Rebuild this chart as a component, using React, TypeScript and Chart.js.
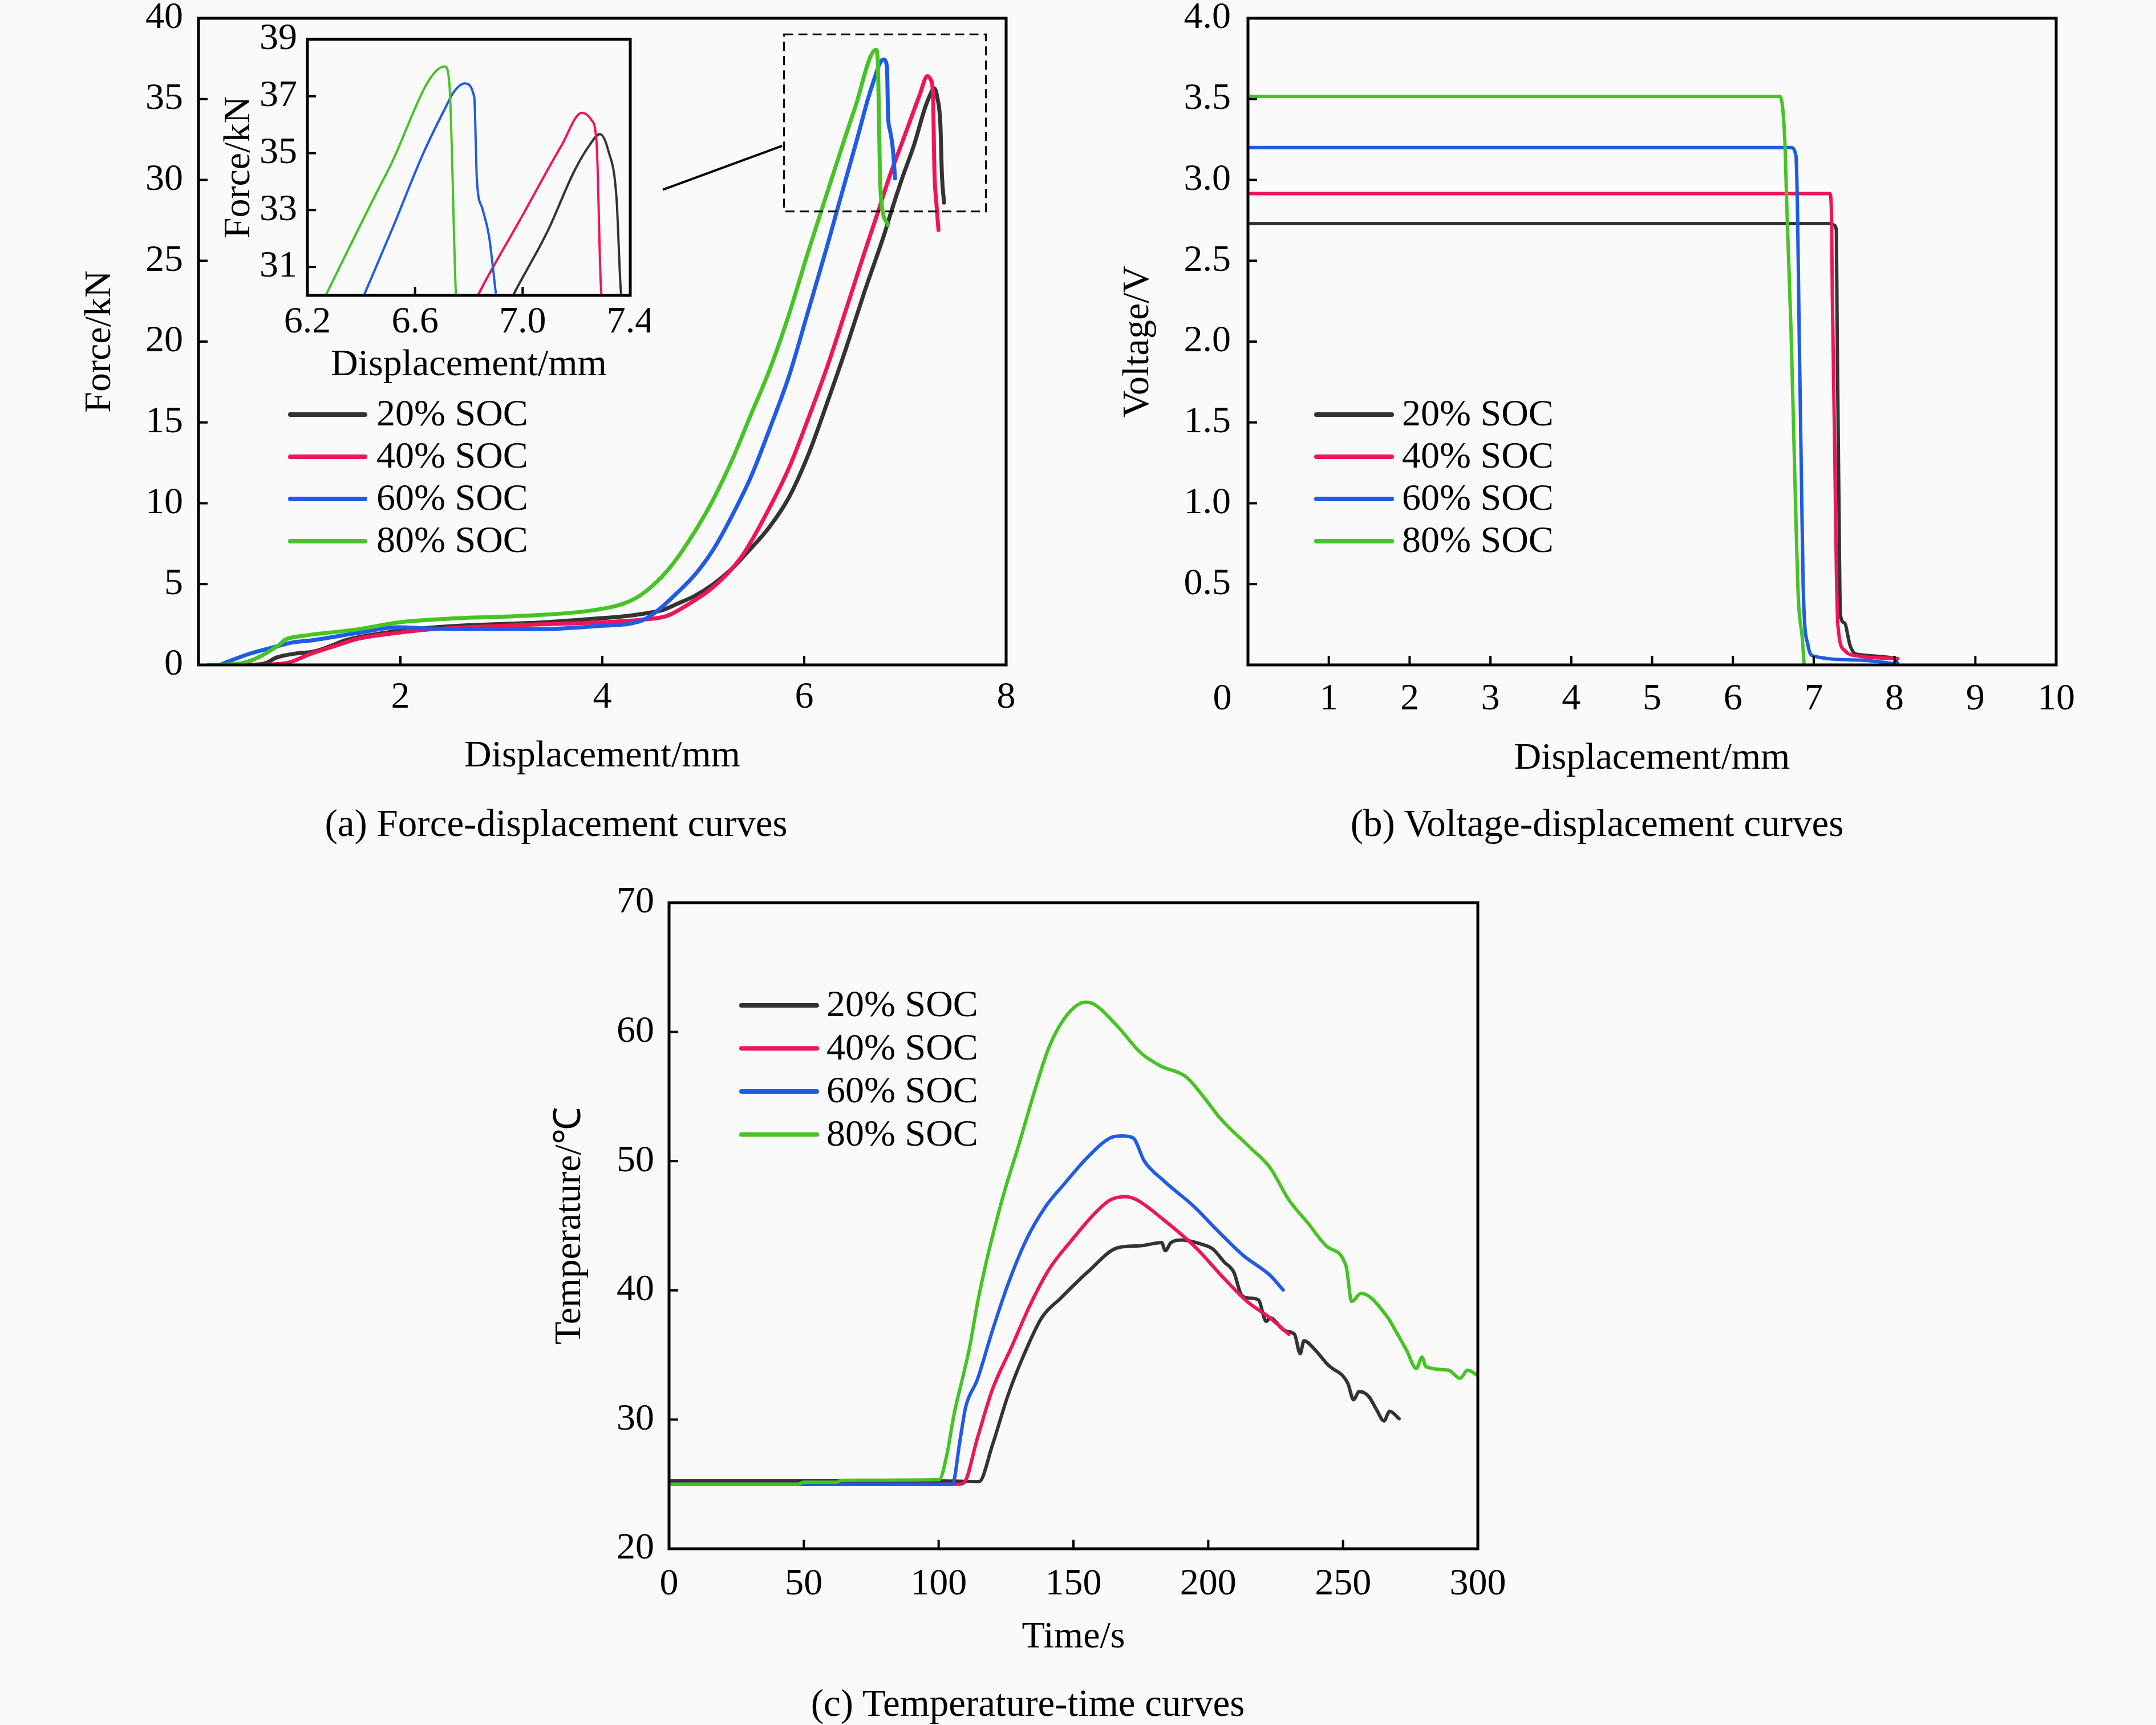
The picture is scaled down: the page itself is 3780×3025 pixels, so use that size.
import React, { useEffect, useRef } from 'react';
import { Chart, registerables } from 'chart.js';

Chart.register(...registerables);

type Pt = [number, number];

// ---------- Data ----------
const SOC_LABELS = ['20% SOC', '40% SOC', '60% SOC', '80% SOC'];
const SOC_COLORS = ['#333333', '#f01458', '#1f5be6', '#46c424'];

// (a) Force (kN) vs displacement (mm)
const force20: Pt[] = [[0.5,0],[0.65,0.08],[0.78,0.47],[0.96,0.7],[1.14,0.82],[1.3,1.15],[1.45,1.51],[1.61,1.74],[1.97,2.09],[2.3,2.3],[2.66,2.45],[3.0,2.53],[3.38,2.62],[3.92,2.86],[4.2,3.0],[4.39,3.15],[4.6,3.4],[4.75,3.8],[4.91,4.25],[5.1,5.0],[5.28,5.93],[5.435,6.95],[5.66,8.57],[5.85,10.38],[6.04,13.0],[6.23,16.26],[6.41,19.5],[6.6,23.14],[6.79,26.58],[6.86,28.0],[6.97,30.1],[7.092,32.24],[7.192,34.37],[7.25,35.3],[7.287,35.67],[7.318,35.1],[7.349,33.4],[7.364,30.3],[7.385,28.6]];
const force40: Pt[] = [[0.5,0],[0.86,0.1],[1.11,0.68],[1.4,1.27],[1.58,1.62],[1.97,1.98],[2.3,2.2],[2.66,2.33],[3.38,2.51],[3.92,2.62],[4.39,2.8],[4.64,3.03],[4.85,3.74],[5.096,4.8],[5.38,6.7],[5.66,9.77],[5.85,12.2],[6.04,15.24],[6.23,18.48],[6.41,21.9],[6.6,25.57],[6.73,28.0],[6.85,30.3],[6.99,32.65],[7.144,35.26],[7.22,36.42],[7.256,36.16],[7.275,35.35],[7.29,30.5],[7.31,28.5],[7.33,26.9]];
const force60: Pt[] = [[0.21,0],[0.5,0.68],[0.78,1.15],[0.93,1.39],[1.11,1.51],[1.58,1.98],[1.97,2.33],[2.3,2.25],[2.66,2.21],[3.38,2.21],[3.92,2.39],[4.39,2.74],[4.53,3.27],[4.74,4.45],[4.92,5.6],[5.096,7.1],[5.28,9.17],[5.47,11.6],[5.66,14.64],[5.85,17.88],[6.04,21.9],[6.23,25.97],[6.32,28.0],[6.41,30.0],[6.518,32.4],[6.631,35.0],[6.713,36.6],[6.744,37.15],[6.785,37.45],[6.82,36.98],[6.83,34.04],[6.85,33.06],[6.875,32.08],[6.9,30.1]];
const force80: Pt[] = [[0.1,0],[0.42,0.1],[0.78,1.15],[0.86,1.56],[1.04,1.8],[1.58,2.2],[1.97,2.62],[2.48,2.86],[3.2,3.03],[3.92,3.39],[4.24,3.86],[4.42,4.5],[4.64,5.8],[4.85,7.6],[5.096,10.2],[5.28,12.6],[5.47,15.45],[5.66,18.3],[5.85,21.7],[6.04,25.57],[6.17,28.1],[6.32,31.0],[6.5,34.4],[6.711,38.05],[6.728,37.4],[6.752,30.0],[6.765,28.6],[6.83,27.2]];

// (b) Voltage (V) vs displacement (mm)
const volt20: Pt[] = [[0,2.73],[7.22,2.73],[7.25,2.72],[7.28,2.69],[7.29,2.06],[7.31,1.09],[7.33,0.31],[7.38,0.26],[7.45,0.12],[7.52,0.067],[8.0,0.04],[8.04,0.005]];
const volt40: Pt[] = [[0,2.915],[7.2,2.915],[7.22,2.79],[7.23,2.3],[7.26,1.33],[7.28,0.6],[7.3,0.24],[7.38,0.09],[7.57,0.054],[8.04,0.04]];
const volt60: Pt[] = [[0,3.2],[6.72,3.2],[6.78,3.15],[6.8,2.79],[6.82,2.06],[6.85,1.09],[6.87,0.48],[6.93,0.12],[7.0,0.054],[7.57,0.03],[8.04,0.005]];
const volt80: Pt[] = [[0,3.517],[6.58,3.517],[6.64,3.27],[6.67,2.79],[6.72,2.06],[6.77,1.09],[6.81,0.41],[6.86,0.16],[6.88,0.005]];

// (c) Temperature (°C) vs time (s)
const temp20: Pt[] = [[0,25.25],[100,25.25],[115,25.2],[119.9,28.0],[125.6,31.8],[131.2,34.8],[138.3,37.9],[145.3,39.4],[155.2,41.4],[166.5,43.3],[174.9,43.45],[182.7,43.7],[184.1,43.07],[186.2,43.7],[190.4,43.9],[197.5,43.57],[201.7,43.2],[206,42.18],[209.5,41.4],[212.3,39.65],[215.1,39.4],[218.6,39.27],[221.5,37.6],[222.9,37.87],[228.5,36.86],[232,36.6],[234.1,35.1],[235.5,36.1],[239.8,35.35],[244,34.33],[246.1,33.95],[249.7,33.44],[251.8,32.8],[253.9,31.54],[256,32.17],[259.5,31.8],[262.4,30.78],[265.2,29.9],[267.3,30.65],[270.8,30.07]];
const temp40: Pt[] = [[0,25.0],[107.5,25.0],[109.4,25.1],[114.3,28.5],[119.9,32.3],[127,35.6],[134,38.9],[141.1,41.67],[149.6,43.95],[158,45.98],[163.7,47.0],[169.3,47.25],[173.5,47.0],[183.4,45.47],[194.7,43.45],[206,40.9],[214.4,39.14],[222.9,37.87],[229.9,36.6]];
const temp60: Pt[] = [[0,25.0],[105.1,25.0],[108,28.5],[110.1,31.03],[114.3,33.06],[119.9,36.86],[125.6,40.4],[132.6,43.95],[139.7,46.49],[146.7,48.26],[155.2,50.29],[163.7,51.8],[168,51.95],[172.1,51.8],[176.3,50.0],[183.4,48.5],[194.7,46.49],[203.1,44.7],[213,42.7],[222.9,41.17],[227.8,40.03]];
const temp80: Pt[] = [[0,25.0],[48,25.0],[50,25.15],[62,25.15],[64,25.3],[100.2,25.35],[103,27.23],[105.8,30.5],[108.7,33.06],[111.5,35.6],[114.3,38.9],[118.5,42.94],[124.2,47.5],[129.8,51.3],[135.5,55.35],[141.1,58.9],[148.1,61.43],[154.5,62.3],[158,62.1],[166.5,60.4],[174.9,58.4],[182,57.4],[191.9,56.5],[198.9,54.8],[204.5,53.3],[215.8,51.0],[222.9,49.5],[229.9,47.0],[237,45.2],[244,43.4],[251.1,41.9],[253.2,39.14],[256.7,39.77],[266.6,37.9],[269.4,36.9],[273.6,35.35],[277.2,33.95],[279.3,34.83],[280.7,34.1],[289.1,33.82],[293.4,33.19],[296.2,33.82],[300,33.4]];

// Tick values
const forceXTicks = [0, 2, 4, 6, 8];
const forceYTicks = [0, 5, 10, 15, 20, 25, 30, 35, 40];
const insetXTicks = [6.2, 6.6, 7.0, 7.4];
const insetYTicks = [31, 33, 35, 37, 39];
const voltXTicks = [0, 1, 2, 3, 4, 5, 6, 7, 8, 9, 10];
const voltYTicks = [0, 0.5, 1.0, 1.5, 2.0, 2.5, 3.0, 3.5, 4.0];
const tempXTicks = [0, 50, 100, 150, 200, 250, 300];
const tempYTicks = [20, 30, 40, 50, 60, 70];

// Zoomed region (data units) and connector line of panel (a)
const zoomRegion = { x0: 5.8, x1: 7.8, y0: 28.05, y1: 39.0 };
const zoomConnector = { x0: 4.6, y0: 29.4, x1: 5.78, y1: 32.1 };

// ---------- Styling / layout ----------
const FONT = '"Liberation Serif", "Times New Roman", serif';
const FS = 66;
const CAPTION_FS = 67;
const BG = '#fafafa';

type Geom = { left: number; top: number; width: number; height: number; area: { left: number; top: number; right: number; bottom: number } };

const GEOM_A: Geom = { left: 0, top: 0, width: 1900, height: 1400, area: { left: 348, top: 32, right: 1764, bottom: 1166 } };
const GEOM_INSET: Geom = { left: 380, top: 0, width: 760, height: 700, area: { left: 159, top: 69, right: 725, bottom: 518 } };
const GEOM_B: Geom = { left: 1900, top: 0, width: 1880, height: 1400, area: { left: 288, top: 32, right: 1705, bottom: 1166 } };
const GEOM_C: Geom = { left: 900, top: 1500, width: 1800, height: 1440, area: { left: 273, top: 83, right: 1691, bottom: 1216 } };

function near(a: number, b: number) { return Math.abs(a - b) < 1e-6; }

const decorPlugin = {
  id: 'decor',
  beforeDatasetsDraw(chart: any, _args: any, o: any) {
    if (!o || !o.bg) return;
    const a = chart.chartArea;
    const ctx = chart.ctx;
    ctx.save();
    ctx.fillStyle = o.bg;
    ctx.fillRect(a.left, a.top, a.right - a.left, a.bottom - a.top);
    ctx.restore();
  },
  afterDatasetsDraw(chart: any, _args: any, o: any) {
    const { ctx, chartArea: a } = chart;
    const xs = chart.scales.x;
    const ys = chart.scales.y;
    ctx.save();
    ctx.strokeStyle = '#000';
    ctx.lineCap = 'butt';
    // inward ticks
    ctx.lineWidth = o.tickWidth;
    for (const t of xs.ticks) {
      if (near(t.value, xs.min) || near(t.value, xs.max)) continue;
      const px = xs.getPixelForValue(t.value);
      ctx.beginPath();
      ctx.moveTo(px, a.bottom);
      ctx.lineTo(px, a.bottom - o.tickLen);
      ctx.stroke();
    }
    for (const t of ys.ticks) {
      if (near(t.value, ys.min) || near(t.value, ys.max)) continue;
      const py = ys.getPixelForValue(t.value);
      ctx.beginPath();
      ctx.moveTo(a.left, py);
      ctx.lineTo(a.left + o.tickLen, py);
      ctx.stroke();
    }
    // frame
    ctx.lineWidth = o.frameWidth;
    ctx.lineJoin = 'miter';
    ctx.strokeRect(a.left, a.top, a.right - a.left, a.bottom - a.top);

    // zoom region box + connector
    if (o.zoom) {
      const z = o.zoom;
      const x0 = xs.getPixelForValue(z.x0), x1 = xs.getPixelForValue(z.x1);
      const y0 = ys.getPixelForValue(z.y0), y1 = ys.getPixelForValue(z.y1);
      ctx.lineWidth = 3;
      ctx.setLineDash([16, 9]);
      ctx.strokeRect(x0, y1, x1 - x0, y0 - y1);
      ctx.setLineDash([]);
    }
    if (o.connector) {
      const c = o.connector;
      ctx.lineWidth = 4;
      ctx.beginPath();
      ctx.moveTo(xs.getPixelForValue(c.x0), ys.getPixelForValue(c.y0));
      ctx.lineTo(xs.getPixelForValue(c.x1), ys.getPixelForValue(c.y1));
      ctx.stroke();
    }
    // origin label
    if (o.origin) {
      ctx.fillStyle = '#000';
      ctx.font = `${FS}px ${FONT}`;
      ctx.textAlign = 'center';
      ctx.textBaseline = 'middle';
      ctx.fillText(o.origin.text, a.left + o.origin.dx, a.bottom + o.origin.dy);
    }
    // legend
    if (o.legend) {
      const L = o.legend;
      const ds = chart.data.datasets;
      ctx.font = `${FS}px ${FONT}`;
      ctx.textAlign = 'left';
      ctx.textBaseline = 'middle';
      for (let i = 0; i < ds.length; i++) {
        const y = a.top + L.dy + i * L.gap;
        const x = a.left + L.dx;
        ctx.strokeStyle = ds[i].borderColor;
        ctx.lineWidth = 8;
        ctx.lineCap = 'round';
        ctx.beginPath();
        ctx.moveTo(x, y);
        ctx.lineTo(x + L.len, y);
        ctx.stroke();
        ctx.fillStyle = '#000';
        ctx.fillText(ds[i].label, x + L.len + L.textGap, y + 2);
      }
    }
    ctx.restore();
  },
};

function makeDatasets(series: Pt[][], width: number) {
  return series.map((s, i) => ({
    label: SOC_LABELS[i],
    data: s.map(([x, y]) => ({ x, y })),
    borderColor: SOC_COLORS[i],
    backgroundColor: SOC_COLORS[i],
    borderWidth: width,
    pointRadius: 0,
    pointHoverRadius: 0,
    showLine: true,
    fill: false,
    cubicInterpolationMode: 'monotone',
    borderCapStyle: 'round',
    borderJoinStyle: 'round',
    order: series.length - i,
  }));
}

type AxisSpec = {
  min: number; max: number; ticks: number[]; fmt: (v: number) => string;
  pad: number; title: string; titlePad: number;
};

function buildConfig(geom: Geom, datasets: any[], x: AxisSpec, y: AxisSpec, decor: any) {
  const a = geom.area;
  const font = { family: FONT, size: FS };
  return {
    type: 'scatter',
    data: { datasets },
    plugins: [decorPlugin],
    options: {
      animation: false,
      responsive: false,
      maintainAspectRatio: false,
      devicePixelRatio: 1,
      events: [],
      layout: { padding: { left: 0, top: a.top, right: geom.width - a.right, bottom: 0 } },
      plugins: {
        legend: { display: false },
        tooltip: { enabled: false },
        decor,
      },
      scales: {
        x: {
          type: 'linear',
          min: x.min,
          max: x.max,
          afterBuildTicks: (s: any) => { s.ticks = x.ticks.map((v) => ({ value: v })); },
          afterFit: (s: any) => { s.height = geom.height - a.bottom; s.paddingLeft = 0; s.paddingRight = 0; },
          grid: { display: false, drawTicks: false },
          border: { display: false },
          ticks: { autoSkip: false, maxRotation: 0, minRotation: 0, padding: x.pad, color: '#000', font, callback: (v: any) => x.fmt(Number(v)) },
          title: { display: true, text: x.title, color: '#000', font, padding: { top: 0, bottom: x.titlePad } },
        },
        y: {
          type: 'linear',
          min: y.min,
          max: y.max,
          afterBuildTicks: (s: any) => { s.ticks = y.ticks.map((v) => ({ value: v })); },
          afterFit: (s: any) => { s.width = a.left; s.paddingTop = 0; s.paddingBottom = 0; },
          grid: { display: false, drawTicks: false },
          border: { display: false },
          ticks: { autoSkip: false, padding: y.pad, color: '#000', font, callback: (v: any) => y.fmt(Number(v)) },
          title: { display: true, text: y.title, color: '#000', font, padding: { top: y.titlePad, bottom: 0 } },
        },
      },
    },
  };
}

function ChartCanvas({ geom, make }: { geom: Geom; make: () => any }) {
  const ref = useRef<HTMLCanvasElement>(null);
  useEffect(() => {
    if (!ref.current) return;
    const chart = new Chart(ref.current, make());
    return () => chart.destroy();
  }, []);
  return (
    <canvas
      ref={ref}
      width={geom.width}
      height={geom.height}
      style={{ position: 'absolute', left: geom.left, top: geom.top, width: geom.width, height: geom.height }}
    />
  );
}

const hideZero = (v: number) => (near(v, 0) ? '' : String(v));
const plain = (v: number) => String(v);
const oneDec = (v: number) => (near(v, 0) ? '' : v.toFixed(1));

const legendA = { dx: 161, dy: 695, gap: 74, len: 131, textGap: 20 };
const legendB = { dx: 120, dy: 695, gap: 74, len: 132, textGap: 18 };
const legendC = { dx: 127, dy: 180, gap: 75.5, len: 132, textGap: 17 };

const makeA = () =>
  buildConfig(
    GEOM_A,
    makeDatasets([force20, force40, force60, force80], 7),
    { min: 0, max: 8, ticks: forceXTicks, fmt: hideZero, pad: 18, title: 'Displacement/mm', titlePad: 34 },
    { min: 0, max: 40, ticks: forceYTicks, fmt: plain, pad: 27, title: 'Force/kN', titlePad: 136 },
    { tickLen: 16, tickWidth: 4, frameWidth: 5, legend: legendA, zoom: zoomRegion, connector: zoomConnector }
  );

const makeInset = () =>
  buildConfig(
    GEOM_INSET,
    makeDatasets([force20, force40, force60, force80], 4),
    { min: 6.2, max: 7.4, ticks: insetXTicks, fmt: (v) => v.toFixed(1), pad: 8, title: 'Displacement/mm', titlePad: 20 },
    { min: 30, max: 39, ticks: insetYTicks, fmt: plain, pad: 18, title: 'Force/kN', titlePad: 0 },
    { tickLen: 15, tickWidth: 4, frameWidth: 5, bg: BG }
  );

const makeB = () =>
  buildConfig(
    GEOM_B,
    makeDatasets([volt20, volt40, volt60, volt80], 6),
    { min: 0, max: 10, ticks: voltXTicks, fmt: hideZero, pad: 21, title: 'Displacement/mm', titlePad: 30 },
    { min: 0, max: 4, ticks: voltYTicks, fmt: oneDec, pad: 30, title: 'Voltage/V', titlePad: 56 },
    { tickLen: 16, tickWidth: 4, frameWidth: 5, legend: legendB, origin: { text: '0', dx: -45, dy: 61 } }
  );

const makeC = () =>
  buildConfig(
    GEOM_C,
    makeDatasets([temp20, temp40, temp60, temp80], 6),
    { min: 0, max: 300, ticks: tempXTicks, fmt: plain, pad: 23, title: 'Time/s', titlePad: 29 },
    { min: 20, max: 70, ticks: tempYTicks, fmt: plain, pad: 26, title: 'Temperature/℃', titlePad: 60 },
    { tickLen: 16, tickWidth: 4, frameWidth: 5, legend: legendC }
  );

function Caption({ x, y, text }: { x: number; y: number; text: string }) {
  return (
    <div
      style={{
        position: 'absolute', left: x, top: y, transform: 'translate(-50%, -50%)',
        fontFamily: FONT, fontSize: CAPTION_FS, lineHeight: 1, whiteSpace: 'nowrap', color: '#000',
      }}
    >
      {text}
    </div>
  );
}

export default function App() {
  return (
    <div style={{ position: 'absolute', left: 0, top: 0, width: 3780, height: 3025, background: BG, overflow: 'hidden' }}>
      <ChartCanvas geom={GEOM_A} make={makeA} />
      <ChartCanvas geom={GEOM_INSET} make={makeInset} />
      <ChartCanvas geom={GEOM_B} make={makeB} />
      <ChartCanvas geom={GEOM_C} make={makeC} />
      <Caption x={975} y={1443} text="(a) Force-displacement curves" />
      <Caption x={2800} y={1443} text="(b) Voltage-displacement curves" />
      <Caption x={1802} y={2986} text="(c) Temperature-time curves" />
    </div>
  );
}
